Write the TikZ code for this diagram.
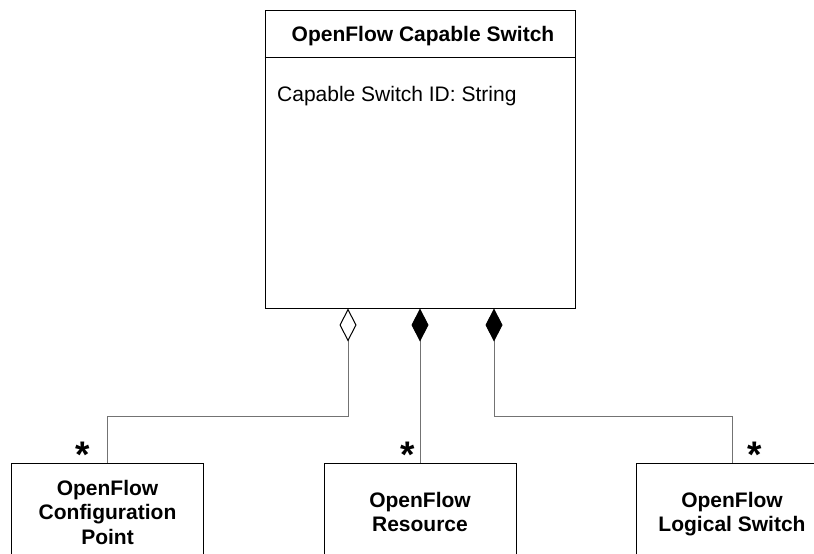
\documentclass[tikz,border=0pt]{standalone}
\usepackage{fontspec}
\setmainfont{Liberation Sans}
\usetikzlibrary{arrows.meta}
\begin{document}
\begin{tikzpicture}[x=1pt,y=-1pt,
  boxline/.style={draw=black, line width=1pt},
  mainbox/.style={boxline, minimum width=310pt, minimum height=298pt, inner sep=0pt},
  classbox/.style={boxline, minimum width=192pt, minimum height=98pt, inner sep=0pt, align=center, text depth=0pt, font=\bfseries\fontsize{21}{24.5}\selectfont},
  titletext/.style={font=\bfseries\fontsize{21}{25}\selectfont, inner sep=0pt, anchor=base},
  bodytext/.style={font=\fontsize{21}{25}\selectfont, inner sep=0pt, anchor=base west},
  conn/.style={draw=black!55, line width=1pt},
  aggr/.style={conn, {Diamond[open, length=33pt, width=17pt, color=black]}-},
  comp/.style={conn, {Diamond[length=33pt, width=17pt, color=black]}-},
  mult/.style={font=\bfseries\fontsize{37}{37}\selectfont, inner sep=0pt, anchor=base},
]
\useasboundingbox (0,0) rectangle (814,554);
\clip (0,0) rectangle (814,554);

% main class
\node[mainbox] (main) at (420,159) {};
\node[titletext] (title) at (423,41.5) {OpenFlow Capable Switch};
\coordinate (hl) at (0,57);
\draw[boxline] (main.west |- hl) -- (main.east |- hl);
\node[bodytext] (attr) at (277,101) {Capable Switch ID: String};

% child classes
\node[classbox] (cfg) at (107.5,512) {OpenFlow\\Configuration\\Point};
\node[classbox] (res) at (420,512) {OpenFlow\\Resource};
\node[classbox] (ls) at (732,512) {OpenFlow\\Logical Switch};

% connectors
\coordinate (a1) at ([xshift=-72pt]main.south);
\coordinate (c1) at (main.south);
\coordinate (c2) at ([xshift=74pt]main.south);
\draw[aggr] (a1) -- ++(0,108) -| (cfg.north);
\draw[comp] (c1) -- (res.north);
\draw[comp] (c2) -- ++(0,108) -| (ls.north);

% multiplicities
\node[mult] (m1) at (83,467) {*};
\node[mult] (m2) at (407.5,467) {*};
\node[mult] (m3) at (755,467) {*};
\end{tikzpicture}
\end{document}
